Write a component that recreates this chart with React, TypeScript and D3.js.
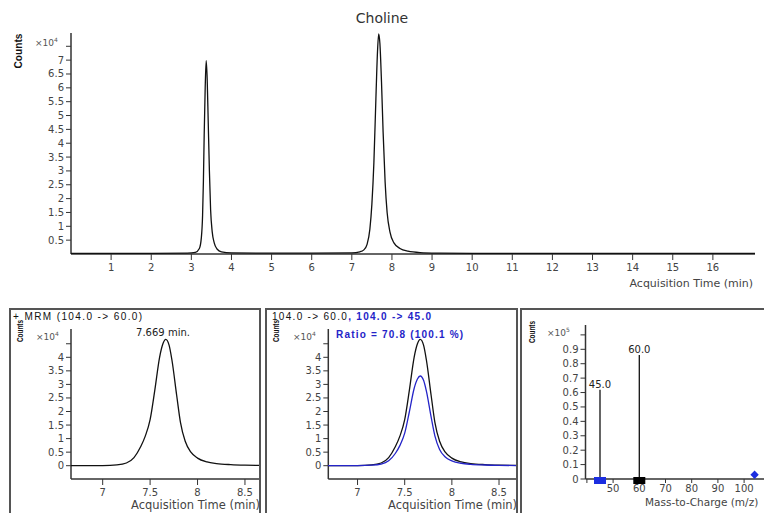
import React from "react";
import * as d3 from "d3";

// ---- Data ----
const topTimes = [0, 1, 2, 2.9, 3.1, 3.2, 3.25, 3.28, 3.3, 3.32, 3.345, 3.37, 3.395, 3.42, 3.45, 3.48, 3.52, 3.57, 3.64, 3.75, 4.0, 5, 6, 7, 7.2, 7.3, 7.38, 7.45, 7.5, 7.55, 7.6, 7.64, 7.67, 7.7, 7.74, 7.78, 7.83, 7.88, 7.95, 8.05, 8.2, 8.4, 8.7, 9.2, 10, 17.05];
const topCounts = [0.02, 0.02, 0.02, 0.03, 0.06, 0.2, 0.6, 1.4, 2.6, 4.3, 6.0, 6.98, 6.3, 4.8, 3.0, 1.6, 0.8, 0.4, 0.18, 0.08, 0.04, 0.03, 0.03, 0.04, 0.08, 0.15, 0.35, 0.9, 1.8, 3.3, 5.6, 7.3, 7.95, 7.6, 6.2, 4.4, 2.6, 1.5, 0.8, 0.4, 0.2, 0.1, 0.05, 0.03, 0.02, 0.02];

const zoomTimes = [6.6, 7.0, 7.15, 7.25, 7.33, 7.4, 7.45, 7.5, 7.55, 7.6, 7.635, 7.665, 7.7, 7.73, 7.78, 7.82, 7.87, 7.93, 8.0, 8.1, 8.2, 8.35, 8.5, 8.7];
const quantCounts = [0.0, 0.005, 0.03, 0.1, 0.3, 0.7, 1.1, 1.7, 2.8, 4.0, 4.5, 4.66, 4.45, 3.9, 2.6, 1.6, 0.9, 0.5, 0.28, 0.14, 0.08, 0.04, 0.02, 0.01];
const qualCounts = [0.0, 0.005, 0.02, 0.06, 0.18, 0.45, 0.75, 1.2, 2.0, 2.85, 3.2, 3.31, 3.15, 2.75, 1.8, 1.1, 0.6, 0.32, 0.18, 0.09, 0.05, 0.025, 0.012, 0.005];

const topXTicks = [1, 2, 3, 4, 5, 6, 7, 8, 9, 10, 11, 12, 13, 14, 15, 16];
const topYTicks = [0.5, 1, 1.5, 2, 2.5, 3, 3.5, 4, 4.5, 5, 5.5, 6, 6.5, 7, 7.5];
const zoomXTicks = [7, 7.5, 8, 8.5];
const zoomYTicks = [0, 0.5, 1, 1.5, 2, 2.5, 3, 3.5, 4, 4.5];
const specMz = [45.0, 60.0];
const specCounts = [0.62, 0.86];
const specLabels = ["45.0", "60.0"];
const specXTicks = [40, 50, 60, 70, 80, 90, 100];
const specYTicks = [0, 0.1, 0.2, 0.3, 0.4, 0.5, 0.6, 0.7, 0.8, 0.9, 1.0];
const precursorMz = 104.0;
const precursorCount = 0.03;

const TICK_FONT = "DejaVu Sans, sans-serif";
const SANS = "Liberation Sans, Arial, sans-serif";
const AXC = "#333";
const BLUE = "#2424c8";

function fmt(v: number) {
  return String(+v.toFixed(2));
}

function Multiplier({ x, y, exp }: { x: number; y: number; exp: string }) {
  return (
    <text x={x} y={y} fontFamily={TICK_FONT} fontSize={9} fill="#555">
      ×10<tspan dy={-4} fontSize={6}>{exp}</tspan>
    </text>
  );
}

function CountsLabel({ x, y, size, len }: { x: number; y: number; size: number; len: number }) {
  return (
    <text
      transform={`translate(${x},${y}) rotate(-90)`}
      textAnchor="middle"
      fontFamily={SANS}
      fontWeight="bold"
      fontSize={size}
      fill="#111"
      textLength={len}
      lengthAdjust="spacingAndGlyphs"
    >
      Counts
    </text>
  );
}

function YAxis({ scale, ticks, x, top, bottom, hideLast }: any) {
  return (
    <g>
      <line x1={x} x2={x} y1={top} y2={bottom} stroke={AXC} strokeWidth={1.5} />
      {ticks.map((t: number, i: number) => (
        <g key={i}>
          <line x1={x - 5} x2={x} y1={scale(t)} y2={scale(t)} stroke={AXC} strokeWidth={1} />
          {!(hideLast && i === ticks.length - 1) && (
            <text x={x - 7} y={scale(t) + 3.5} textAnchor="end" fontFamily={TICK_FONT} fontSize={10} fill="#444">
              {fmt(t)}
            </text>
          )}
        </g>
      ))}
    </g>
  );
}

function XAxis({ scale, ticks, y, left, right, hide, labelDy = 17, tickLen = 6 }: any) {
  return (
    <g>
      <line x1={left} x2={right} y1={y} y2={y} stroke={AXC} strokeWidth={1.5} />
      {ticks.map((t: number, i: number) => (
        <g key={i}>
          <line x1={scale(t)} x2={scale(t)} y1={y} y2={y + tickLen} stroke={AXC} strokeWidth={1} />
          {!(hide && hide.includes(t)) && (
            <text x={scale(t)} y={y + labelDy} textAnchor="middle" fontFamily={TICK_FONT} fontSize={10} fill="#444">
              {fmt(t)}
            </text>
          )}
        </g>
      ))}
    </g>
  );
}

export default function App() {
  // Top chart
  const xT = d3.scaleLinear().domain([0, 17.05]).range([71, 755]);
  const yT = d3.scaleLinear().domain([0, 7.98]).range([254, 33]);
  const topLine = d3
    .line<number>()
    .x((_, i) => xT(topTimes[i]))
    .y((d) => yT(d))
    .curve(d3.curveMonotoneX)(topCounts);

  // Bottom-left
  const xL = d3.scaleLinear().domain([6.666, 8.648]).range([71, 259]);
  const yZ = d3.scaleLinear().domain([0, 4]).range([465.7, 357.3]);
  const mkLine = (xs: any, vals: number[]) =>
    d3
      .line<number>()
      .x((_, i) => xs(zoomTimes[i]))
      .y((d) => yZ(d))
      .curve(d3.curveMonotoneX)(vals);

  // Bottom-middle
  const xM = d3.scaleLinear().domain([6.69, 8.68]).range([328.3, 516]);

  // Right spectrum
  const xR = d3.scaleLinear().domain([40, 60]).range([586.9, 639.3]);
  const yR = d3.scaleLinear().domain([0, 0.9]).range([479, 349.3]);

  return (
    <svg width={764} height={513} style={{ position: "absolute", left: 0, top: 0, background: "#fff" }}>
      <defs>
        <clipPath id="cl">
          <rect x={71} y={320} width={188} height={193} />
        </clipPath>
        <clipPath id="cm">
          <rect x={328} y={320} width={188} height={193} />
        </clipPath>
        <clipPath id="bl">
          <rect x={11} y={310} width={248} height={203} />
        </clipPath>
        <clipPath id="bm">
          <rect x={267} y={310} width={249} height={203} />
        </clipPath>
        <clipPath id="br">
          <rect x={522} y={310} width={242} height={203} />
        </clipPath>
      </defs>

      {/* ---- Top chart ---- */}
      <text x={382} y={23} textAnchor="middle" fontFamily="DejaVu Sans, sans-serif" fontSize={14} fill="#333">
        Choline
      </text>
      <CountsLabel x={22} y={51} size={11} len={35} />
      <Multiplier x={35} y={46} exp="4" />
      <YAxis scale={yT} ticks={topYTicks} x={71} top={33} bottom={254} hideLast />
      <XAxis scale={xT} ticks={topXTicks} y={254} left={71} right={755} />
      <text x={753} y={287} textAnchor="end" fontFamily={TICK_FONT} fontSize={11} fill="#444">
        Acquisition Time (min)
      </text>
      <path d={topLine || ""} fill="none" stroke="#111" strokeWidth={1.3} />

      {/* ---- Bottom-left panel ---- */}
      <rect x={10} y={309} width={250} height={220} fill="none" stroke="#555" strokeWidth={2} />
      <g clipPath="url(#bl)">
        <text x={13} y={320} fontFamily={SANS} fontSize={10} letterSpacing={1.4} fill="#111">
          + MRM (104.0 -&gt; 60.0)
        </text>
        <CountsLabel x={23} y={331} size={9} len={22} />
        <Multiplier x={36} y={340} exp="4" />
        <YAxis scale={yZ} ticks={zoomYTicks} x={71} top={329} bottom={479} hideLast />
        <XAxis scale={xL} ticks={zoomXTicks} y={479} left={71} right={259} />
        <text x={131} y={509} fontFamily={TICK_FONT} fontSize={11.5} fill="#444">
          Acquisition Time (min)
        </text>
        <text x={163} y={336} textAnchor="middle" fontFamily={TICK_FONT} fontSize={10} fill="#222">
          7.669 min.
        </text>
        <g clipPath="url(#cl)">
          <path d={mkLine(xL, quantCounts) || ""} fill="none" stroke="#111" strokeWidth={1.3} />
        </g>
      </g>

      {/* ---- Bottom-middle panel ---- */}
      <rect x={266} y={309} width={251} height={220} fill="none" stroke="#555" strokeWidth={2} />
      <g clipPath="url(#bm)">
        <text x={272} y={320} fontFamily={SANS} fontSize={10} letterSpacing={1.3} fill="#111">
          104.0 -&gt; 60.0
          <tspan fill={BLUE} fontWeight="bold">, 104.0 -&gt; 45.0</tspan>
        </text>
        <text x={336} y={338} fontFamily={SANS} fontSize={10} letterSpacing={1.2} fontWeight="bold" fill={BLUE}>
          Ratio = 70.8 (100.1 %)
        </text>
        <CountsLabel x={279} y={331} size={9} len={22} />
        <Multiplier x={293} y={340} exp="4" />
        <YAxis scale={yZ} ticks={zoomYTicks} x={328.3} top={329} bottom={479} hideLast />
        <XAxis scale={xM} ticks={zoomXTicks} y={479} left={328.3} right={516} />
        <text x={388} y={509} fontFamily={TICK_FONT} fontSize={11.5} fill="#444">
          Acquisition Time (min)
        </text>
        <g clipPath="url(#cm)">
          <path d={mkLine(xM, quantCounts) || ""} fill="none" stroke="#111" strokeWidth={1.3} />
          <path d={mkLine(xM, qualCounts) || ""} fill="none" stroke={BLUE} strokeWidth={1.3} />
        </g>
      </g>

      {/* ---- Right spectrum panel ---- */}
      <rect x={521} y={309} width={260} height={220} fill="none" stroke="#555" strokeWidth={2} />
      <g clipPath="url(#br)">
        <CountsLabel x={535} y={332} size={9} len={22} />
        <Multiplier x={547} y={336} exp="5" />
        <YAxis scale={yR} ticks={specYTicks} x={585.5} top={325} bottom={479} hideLast />
        <XAxis scale={xR} ticks={specXTicks} y={479} left={585.5} right={764} hide={[40]} labelDy={13} tickLen={4} />
        <text x={645} y={506} fontFamily={TICK_FONT} fontSize={10.5} fill="#444">
          Mass-to-Charge (m/z)
        </text>
        {specMz.map((m, i) => (
          <g key={i}>
            <line x1={xR(m)} x2={xR(m)} y1={yR(0)} y2={yR(specCounts[i])} stroke="#111" strokeWidth={1.3} />
            <text x={xR(m)} y={yR(specCounts[i]) - 2} textAnchor="middle" fontFamily={TICK_FONT} fontSize={10} fill="#222">
              {specLabels[i]}
            </text>
            <rect x={xR(m) - 6} y={yR(0) - 2} width={12} height={7} fill={i === 0 ? "#1c2ee0" : "#000"} />
          </g>
        ))}
        <path
          d={d3.symbol().type(d3.symbolDiamond2).size(45)() || ""}
          transform={`translate(${xR(precursorMz)},${yR(precursorCount)})`}
          fill="#1c2ee0"
        />
      </g>
    </svg>
  );
}
